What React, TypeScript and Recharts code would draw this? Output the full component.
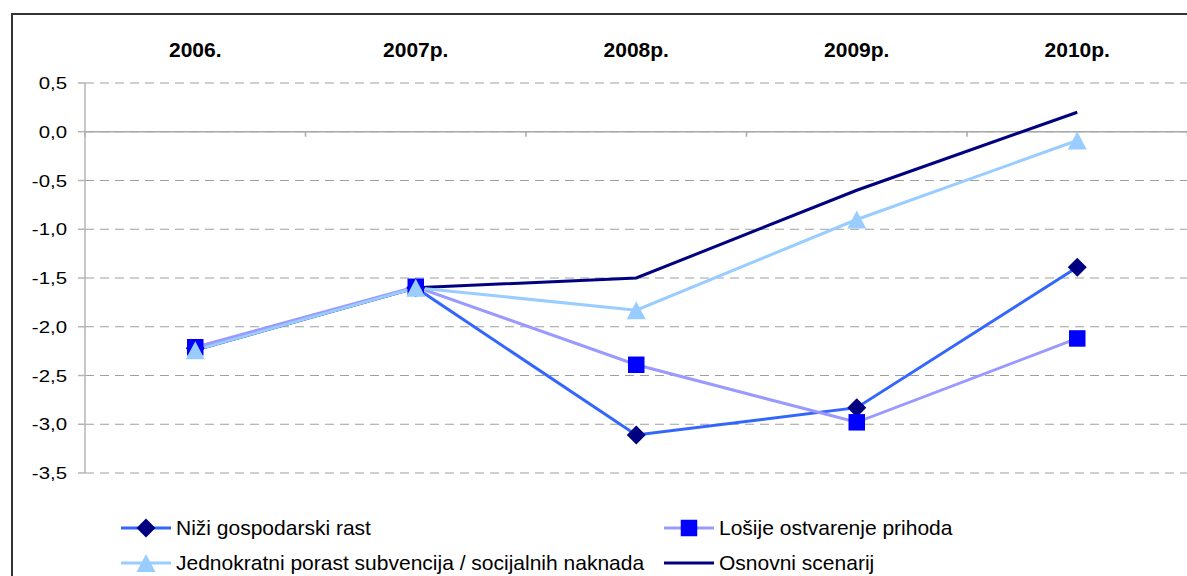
import React from 'react';
import { LineChart, Line, XAxis, YAxis, CartesianGrid, ReferenceLine, Legend } from 'recharts';

const categories = ['2006.', '2007p.', '2008p.', '2009p.', '2010p.'];
const niziRast = [-2.22, -1.6, -3.11, -2.83, -1.39];
const losijePrihodi = [-2.21, -1.59, -2.39, -2.98, -2.12];
const jednokratniPorast = [-2.24, -1.6, -1.83, -0.9, -0.09];
const osnovniScenarij = [-2.24, -1.6, -1.5, -0.6, 0.2];
const yTicks = [0.5, 0, -0.5, -1, -1.5, -2, -2.5, -3, -3.5];

const seriesNames = {
  nizi: 'Niži gospodarski rast',
  losije: 'Lošije ostvarenje prihoda',
  jednokratni: 'Jednokratni porast subvencija / socijalnih naknada',
  osnovni: 'Osnovni scenarij',
};

const data = categories.map((c, i) => ({
  cat: c,
  nizi: niziRast[i],
  losije: losijePrihodi[i],
  jednokratni: jednokratniPorast[i],
  osnovni: osnovniScenarij[i],
}));

const FONT = '"Liberation Sans", Arial, sans-serif';

const C = {
  niziLine: '#3366FF',
  niziMarker: '#000080',
  losijeLine: '#9999FF',
  losijeMarker: '#0000FF',
  jedno: '#99CCFF',
  osnovni: '#000080',
};

const markerPath = (kind: string, cx: number, cy: number) => {
  if (kind === 'diamond') {
    const r = 9.5;
    return `M${cx} ${cy - r} L${cx + r} ${cy} L${cx} ${cy + r} L${cx - r} ${cy} Z`;
  }
  if (kind === 'square') {
    const h = 8.25;
    return `M${cx - h} ${cy - h} L${cx + h} ${cy - h} L${cx + h} ${cy + h} L${cx - h} ${cy + h} Z`;
  }
  return `M${cx} ${cy - 9} L${cx + 9.5} ${cy + 9} L${cx - 9.5} ${cy + 9} Z`;
};

const makeDot = (kind: string, color: string) => (props: any) => {
  const { cx, cy, index } = props;
  if (cx == null || cy == null) return <g key={`e-${index}`} />;
  return <path key={`${kind}-${index}`} d={markerPath(kind, cx, cy)} fill={color} />;
};

const YTick = (props: any) => {
  const { x, y, payload } = props;
  const label = Number(payload.value).toFixed(1).replace('.', ',');
  return (
    <g transform={`translate(${x},${y}) scale(1.2,1)`}>
      <text textAnchor="end" dy="0.36em" fontSize={17} fontFamily={FONT} fill="#000">
        {label}
      </text>
    </g>
  );
};

const ZeroAxis = (props: any) => {
  const { x1, y1, x2, y2 } = props;
  if (x1 == null || x2 == null) return <g />;
  const n = categories.length;
  const ticks = [];
  for (let i = 0; i <= n; i++) {
    const x = x1 + ((x2 - x1) * i) / n;
    ticks.push(<line key={i} x1={x} x2={x} y1={y1} y2={y1 + 5} stroke="#A8A8A8" strokeWidth={1.5} />);
  }
  return (
    <g>
      <line x1={x1} y1={y1} x2={x2} y2={y2} stroke="#A8A8A8" strokeWidth={1.5} />
      {ticks}
    </g>
  );
};

const legendItems = [
  { key: 'nizi', line: C.niziLine, marker: 'diamond', markerColor: C.niziMarker },
  { key: 'losije', line: C.losijeLine, marker: 'square', markerColor: C.losijeMarker },
  { key: 'jednokratni', line: C.jedno, marker: 'triangle', markerColor: C.jedno },
  { key: 'osnovni', line: C.osnovni, marker: 'none', markerColor: C.osnovni },
];

const LegendContent = () => (
  <div
    style={{
      display: 'grid',
      gridTemplateColumns: '543px auto',
      paddingLeft: 121,
      fontFamily: FONT,
      fontSize: 21,
      color: '#000',
    }}
  >
    {legendItems.map((it) => (
      <div key={it.key} style={{ display: 'flex', alignItems: 'center', height: 35, whiteSpace: 'nowrap' }}>
        <svg width={50} height={22} style={{ marginRight: 5, flexShrink: 0 }}>
          <line x1={0} y1={11} x2={50} y2={11} stroke={it.line} strokeWidth={3} />
          {it.marker !== 'none' && <path d={markerPath(it.marker, 25, 11)} fill={it.markerColor} />}
        </svg>
        <span>{(seriesNames as any)[it.key]}</span>
      </div>
    ))}
  </div>
);

export default function App() {
  return (
    <div
      style={{
        position: 'fixed',
        left: 0,
        top: 0,
        width: 1187,
        height: 576,
        overflow: 'hidden',
        background: '#fff',
      }}
    >
      <div
        style={{
          position: 'absolute',
          left: 11,
          top: 13,
          width: 1250,
          height: 700,
          border: '2px solid #333',
          boxSizing: 'border-box',
        }}
      />
      <div style={{ position: 'absolute', left: 0, top: 0 }}>
        <LineChart
          width={1190}
          height={576}
          data={data}
          margin={{ top: 43, right: 2.5, bottom: 103, left: 25 }}
        >
          <CartesianGrid
            horizontal
            vertical={false}
            stroke="#A0A0A0"
            strokeDasharray="9 6"
            strokeWidth={1.2}
          />
          <XAxis
            dataKey="cat"
            scale="band"
            orientation="top"
            axisLine={false}
            tickLine={false}
            tickSize={0}
            tickMargin={26}
            height={40}
            interval={0}
            tick={{ fontSize: 21, fontWeight: 'bold', fill: '#000', fontFamily: FONT }}
          />
          <YAxis
            type="number"
            domain={[-3.5, 0.5]}
            ticks={yTicks}
            interval={0}
            width={60}
            axisLine={{ stroke: '#B4B4B4', strokeWidth: 1.5 }}
            tickLine={{ stroke: '#B4B4B4', strokeWidth: 1.5 }}
            tickSize={7}
            tickMargin={11}
            tick={<YTick />}
          />
          <ReferenceLine y={0} shape={<ZeroAxis />} />
          <Legend
            layout="horizontal"
            verticalAlign="middle"
            align="center"
            content={<LegendContent />}
            wrapperStyle={{ left: 0, top: 510, width: 1187, height: 70 }}
          />
          <Line
            type="linear"
            dataKey="osnovni"
            name={seriesNames.osnovni}
            stroke={C.osnovni}
            strokeWidth={3}
            dot={false}
            activeDot={false}
            isAnimationActive={false}
          />
          <Line
            type="linear"
            dataKey="nizi"
            name={seriesNames.nizi}
            stroke={C.niziLine}
            strokeWidth={3}
            dot={makeDot('diamond', C.niziMarker)}
            activeDot={false}
            isAnimationActive={false}
          />
          <Line
            type="linear"
            dataKey="losije"
            name={seriesNames.losije}
            stroke={C.losijeLine}
            strokeWidth={3}
            dot={makeDot('square', C.losijeMarker)}
            activeDot={false}
            isAnimationActive={false}
          />
          <Line
            type="linear"
            dataKey="jednokratni"
            name={seriesNames.jednokratni}
            stroke={C.jedno}
            strokeWidth={3}
            dot={makeDot('triangle', C.jedno)}
            activeDot={false}
            isAnimationActive={false}
          />
        </LineChart>
      </div>
    </div>
  );
}
